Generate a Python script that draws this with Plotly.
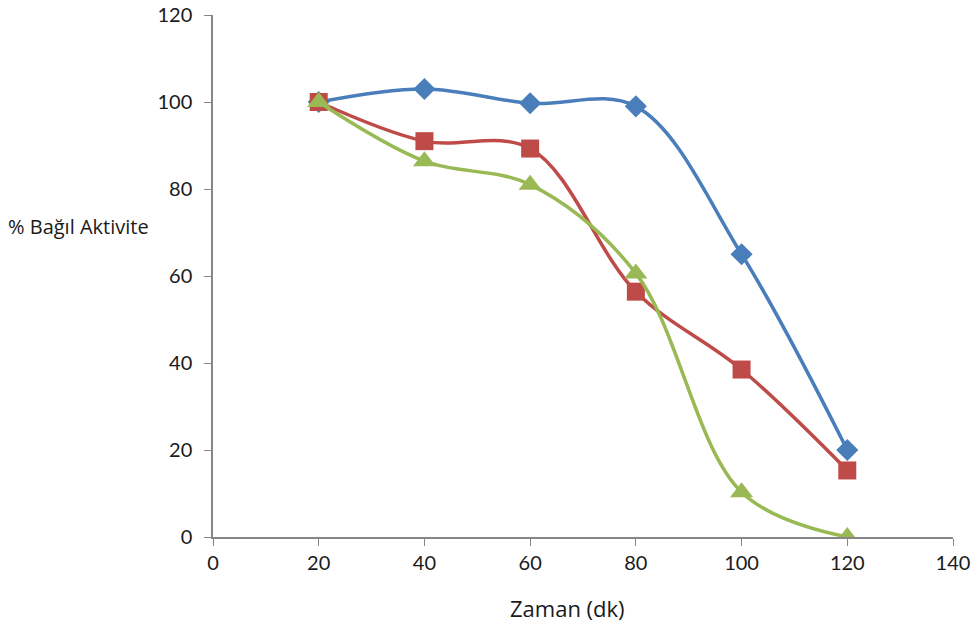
import plotly.graph_objects as go

# Time points (minutes) and relative activity (%) for three conditions
zaman = [20, 40, 60, 80, 100, 120]
seri_mavi = [100, 103, 99.7, 99, 65, 20]
seri_kirmizi = [100, 91, 89.3, 56.4, 38.5, 15.3]
seri_yesil = [100, 86.4, 81, 60.6, 10.3, 0]

x_ticks = [0, 20, 40, 60, 80, 100, 120, 140]
y_ticks = [0, 20, 40, 60, 80, 100, 120]

tick_font = "Lato, 'Open Sans', sans-serif"
title_font = "'Open Sans', Lato, sans-serif"
text_color = "#1a1a1a"
axis_color = "#868686"

fig = go.Figure()

styles = [
    (seri_mavi, "#4A7EBB", "diamond", 17),
    (seri_kirmizi, "#BE4B48", "square", 18),
    (seri_yesil, "#98B954", "triangle-up", 20),
]
for values, color, symbol, size in styles:
    fig.add_trace(go.Scatter(
        x=zaman, y=values,
        mode="lines+markers",
        line=dict(color=color, width=3.5, shape="spline", smoothing=1.0),
        marker=dict(symbol=symbol, size=size, color=color),
        showlegend=False,
    ))

fig.update_xaxes(
    range=[0, 140], tickvals=x_ticks, ticktext=[str(v) for v in x_ticks],
    showgrid=False, zeroline=False, showline=True, linecolor=axis_color, linewidth=1.5,
    ticks="outside", ticklen=7, tickcolor=axis_color, automargin=False,
    tickfont=dict(family=tick_font, size=20, color=text_color),
)
fig.update_yaxes(
    range=[0, 120], tickvals=y_ticks, ticktext=[str(v) for v in y_ticks],
    showgrid=False, zeroline=False, showline=True, linecolor=axis_color, linewidth=1.5,
    ticks="outside", ticklen=7, tickcolor=axis_color, ticklabelstandoff=8, automargin=False,
    tickfont=dict(family=tick_font, size=20, color=text_color),
)

fig.add_annotation(
    text="% Bağıl Aktivite", xref="paper", yref="paper",
    x=-0.28, y=0.594, xanchor="left", yanchor="middle", showarrow=False,
    font=dict(family=title_font, size=20, color=text_color),
)
fig.add_annotation(
    text="Zaman (dk)", xref="paper", yref="paper",
    x=0.479, y=-0.136, xanchor="center", yanchor="middle", showarrow=False,
    font=dict(family=title_font, size=22, color=text_color),
)

fig.update_layout(
    width=973, height=630,
    margin=dict(l=213, r=20, t=15, b=93),
    paper_bgcolor="white", plot_bgcolor="white",
)

fig.write_html("out.html")
